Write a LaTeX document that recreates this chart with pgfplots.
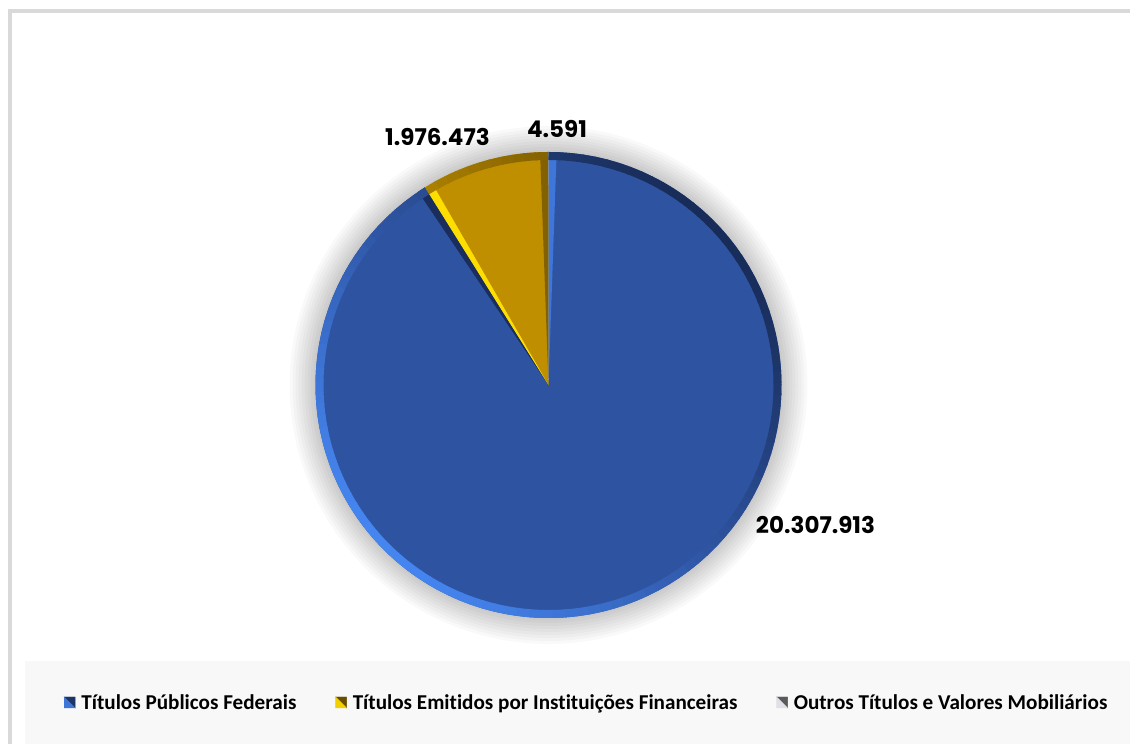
\documentclass[border=0pt]{standalone}
\usepackage{pgfplots}
\pgfplotsset{compat=1.18}
\usepackage{pgfplotstable}
\usepackage{fontspec}
\setmainfont{Carlito}[Ligatures=NoCommon]
\newfontfamily\labfont{Poppins}

\definecolor{bluemain}{HTML}{2E54A1}
\definecolor{bluelight}{HTML}{4585F0}
\definecolor{bluedark}{HTML}{182C58}
\definecolor{goldmain}{HTML}{BF8F00}
\definecolor{goldlight}{HTML}{FFE000}
\definecolor{golddark}{HTML}{6A4E00}
\definecolor{greymain}{HTML}{A5A5A5}
\definecolor{greylight}{HTML}{E0E0E8}
\definecolor{greydark}{HTML}{5A5A5A}
\definecolor{framegrey}{HTML}{D9D9D9}
\definecolor{bandgrey}{HTML}{F8F8F8}

\pgfplotstableread{
idx value
0 20307913
1 1976473
2 4591
}\piedata
\pgfplotstablegetelem{0}{value}\of\piedata\edef\vA{\pgfplotsretval}
\pgfplotstablegetelem{1}{value}\of\piedata\edef\vB{\pgfplotsretval}
\pgfplotstablegetelem{2}{value}\of\piedata\edef\vC{\pgfplotsretval}
\edef\tot{\fpeval{\vA+\vB+\vC}}
\edef\angA{\fpeval{round(90-360*\vA/\tot,4)}}
\edef\angB{\fpeval{round(\angA-360*\vB/\tot,4)}}
\edef\angC{\fpeval{round(\angB-360*\vC/\tot,4)}}
\edef\angAp{\fpeval{\angA+2}}
\edef\angAm{\fpeval{\angA-2}}
\edef\angBp{\fpeval{\angB+2}}

% rim (bevel) along the outer arc of a slice
\newcommand\rim[5]{%
  \pgfmathsetmacro\rs{#1}\pgfmathsetmacro\re{#2}%
  \pgfmathtruncatemacro\rn{max(1,ceil((\re-\rs)/3))}%
  \pgfmathsetmacro\rstep{(\re-\rs)/\rn}%
  \foreach \k in {1,...,\rn}{%
    \pgfmathsetmacro\ta{\rs+(\k-1)*\rstep}%
    \pgfmathsetmacro\tb{min(\ta+\rstep+0.4,\re)}%
    \pgfmathsetmacro\sh{cos((\ta+\ta+\rstep)/2-225)}%
    \pgfmathtruncatemacro\pc{abs(\sh)*100}%
    \ifdim\sh pt>0pt \def\cc{#4}\else\def\cc{#5}\fi
    \edef\tmp{\noexpand\addplot[draw=\cc!\pc!#3, line width=8pt, domain=\ta:\tb, samples=5] ({548.5+229*cos(x)},{359+229*sin(x)});}%
    \tmp
  }%
}
% soft shadow: stacked translucent discs
\newcommand\shadowdisc[1]{%
  \edef\tmp{\noexpand\addplot[draw=none, fill=black, fill opacity=0.022, domain=0:360, samples=120] ({548.5+#1*cos(x)},{359+#1*sin(x)}) -- cycle;}\tmp}

\begin{document}
\begin{tikzpicture}
\begin{axis}[
  scale only axis, width=1130pt, height=744pt,
  xmin=0, xmax=1130, ymin=0, ymax=744,
  hide axis,
  axis background/.style={fill=white},
  legend columns=3,
  legend cell align=left,
  legend style={at={(axis cs:64,41.5)}, anchor=west, draw=none, fill=none,
    inner sep=0pt, outer sep=0pt,
    font=\bfseries\fontsize{21.15}{25}\selectfont,
    nodes={inner sep=0pt},
    /tikz/every odd column/.append style={column sep=6pt},
    /tikz/every even column/.append style={column sep=39pt}},
]
% frame and legend band
\draw[framegrey, line width=4pt] (axis cs:10,-5) -- (axis cs:10,733) -- (axis cs:1135,733);
\fill[bandgrey] (axis cs:25,0) rectangle (axis cs:1130,83);

% legend
\addlegendimage{legend image code/.code={
  \fill[bluedark!80!bluemain] (0pt,5.5pt) -- (11pt,5.5pt) -- (11pt,-5.5pt) -- cycle;
  \fill[bluelight!70!bluemain] (0pt,5.5pt) -- (0pt,-5.5pt) -- (11pt,-5.5pt) -- cycle;}}
\addlegendentry{Títulos Públicos Federais}
\addlegendimage{legend image code/.code={
  \fill[golddark] (0pt,5.5pt) -- (11pt,5.5pt) -- (11pt,-5.5pt) -- cycle;
  \fill[goldlight!80!goldmain] (0pt,5.5pt) -- (0pt,-5.5pt) -- (11pt,-5.5pt) -- cycle;}}
\addlegendentry{Títulos Emitidos por Instituições Financeiras}
\addlegendimage{legend image code/.code={
  \fill[greydark] (0pt,5.5pt) -- (11pt,5.5pt) -- (11pt,-5.5pt) -- cycle;
  \fill[greylight] (0pt,5.5pt) -- (0pt,-5.5pt) -- (11pt,-5.5pt) -- cycle;}}
\addlegendentry{Outros Títulos e Valores Mobiliários}

% soft shadow
\shadowdisc{259}\shadowdisc{256}\shadowdisc{253}\shadowdisc{250}\shadowdisc{247}
\shadowdisc{244}\shadowdisc{241}\shadowdisc{238}\shadowdisc{235}

% slices
\addplot[fill=bluemain, draw=none, domain=\angA:90, samples=200]
  ({548.5+233*cos(x)},{359+233*sin(x)}) -- (axis cs:548.5,359) -- cycle;
\addplot[fill=goldmain, draw=none, domain=\angB:\angA, samples=40]
  ({548.5+233*cos(x)},{359+233*sin(x)}) -- (axis cs:548.5,359) -- cycle;
\addplot[fill=greymain, draw=none, domain=\angC:\angB, samples=3]
  ({548.5+233*cos(x)},{359+233*sin(x)}) -- (axis cs:548.5,359) -- cycle;

% radial bevels
\addplot[fill=bluelight!71!bluemain, draw=none, domain=88:90, samples=3]
  ({548.5+233*cos(x)},{359+233*sin(x)}) -- (axis cs:548.5,359) -- cycle;
\addplot[fill=bluedark!95!bluemain, draw=none, domain=\angA:\angAp, samples=3]
  ({548.5+233*cos(x)},{359+233*sin(x)}) -- (axis cs:548.5,359) -- cycle;
\addplot[fill=goldlight!97!goldmain, draw=none, domain=\angAm:\angA, samples=3]
  ({548.5+233*cos(x)},{359+233*sin(x)}) -- (axis cs:548.5,359) -- cycle;
\addplot[fill=golddark!71!goldmain, draw=none, domain=\angB:\angBp, samples=3]
  ({548.5+233*cos(x)},{359+233*sin(x)}) -- (axis cs:548.5,359) -- cycle;

% outer rims
\rim{\angA}{90}{bluemain}{bluelight}{bluedark}
\rim{\angB}{\angA}{goldmain}{goldlight}{golddark}

% data labels
\node[font=\labfont\bfseries\fontsize{23}{27}\selectfont] at (axis cs:437.5,607) {1.976.473};
\node[font=\labfont\bfseries\fontsize{23}{27}\selectfont] at (axis cs:557,615) {4.591};
\node[font=\labfont\bfseries\fontsize{23}{27}\selectfont] at (axis cs:815.5,219) {20.307.913};
\end{axis}
\end{tikzpicture}
\end{document}
